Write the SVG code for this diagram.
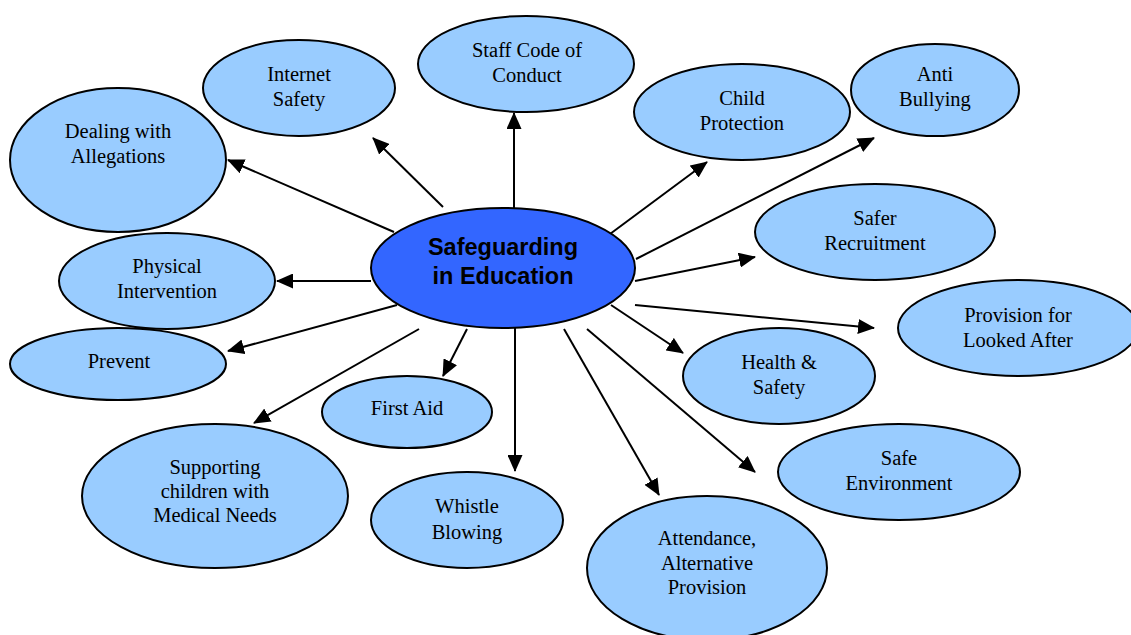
<svg xmlns="http://www.w3.org/2000/svg" width="1131" height="635" viewBox="0 0 1131 635">
<style>
.node ellipse{fill:#99CCFF;stroke:#000;stroke-width:2}
.node text{font-family:"Liberation Serif","Times New Roman",serif;font-size:20.5px;fill:#000;text-anchor:middle}
#center ellipse{fill:#3366FF;stroke:#000;stroke-width:2}
#center text{font-family:"Liberation Sans",Arial,sans-serif;font-weight:bold;font-size:23.5px;fill:#000;text-anchor:middle}
#connectors line{stroke:#000;stroke-width:2;marker-end:url(#arrow)}
</style>
<defs>
<marker id="arrow" markerUnits="userSpaceOnUse" markerWidth="17" markerHeight="15" viewBox="0 0 17 15" refX="16" refY="7.5" orient="auto">
<path d="M0,0 L17,7.5 L0,15 z" fill="#000"/>
</marker>
</defs>
<rect width="1131" height="635" fill="#fff"/>
<g id="connectors">
<line x1="514" y1="208" x2="514" y2="113"/>
<line x1="443" y1="207" x2="373" y2="138"/>
<line x1="394" y1="232" x2="228" y2="160"/>
<line x1="371" y1="281" x2="277" y2="281"/>
<line x1="397" y1="305" x2="228" y2="351"/>
<line x1="419" y1="329" x2="254" y2="423"/>
<line x1="467" y1="329" x2="443" y2="376"/>
<line x1="515" y1="328" x2="515" y2="471"/>
<line x1="564" y1="329" x2="659" y2="495"/>
<line x1="587" y1="329" x2="755" y2="472"/>
<line x1="611" y1="305" x2="683" y2="353"/>
<line x1="635" y1="305" x2="874" y2="328"/>
<line x1="635" y1="281" x2="755" y2="257"/>
<line x1="636" y1="259" x2="874" y2="138"/>
<line x1="610" y1="234" x2="707" y2="162"/>
</g>
<g id="center">
<ellipse cx="503" cy="268" rx="132" ry="60"/>
<text x="503" y="255">Safeguarding</text>
<text x="503" y="284">in Education</text>
</g>
<g id="internet-safety" class="node">
<ellipse cx="299" cy="88" rx="96" ry="48"/>
<text x="299" y="81">Internet</text>
<text x="299" y="106">Safety</text>
</g>
<g id="staff-code" class="node">
<ellipse cx="526" cy="64" rx="108" ry="48"/>
<text x="527" y="57">Staff Code of</text>
<text x="527" y="82">Conduct</text>
</g>
<g id="child-protection" class="node">
<ellipse cx="742" cy="112" rx="108" ry="48"/>
<text x="742" y="105">Child</text>
<text x="742" y="130">Protection</text>
</g>
<g id="anti-bullying" class="node">
<ellipse cx="935" cy="90" rx="84" ry="46"/>
<text x="935" y="81">Anti</text>
<text x="935" y="106">Bullying</text>
</g>
<g id="dealing-allegations" class="node">
<ellipse cx="118" cy="160" rx="108" ry="72"/>
<text x="118" y="138">Dealing with</text>
<text x="118" y="163">Allegations</text>
</g>
<g id="physical-intervention" class="node">
<ellipse cx="167" cy="281" rx="108" ry="48"/>
<text x="167" y="273">Physical</text>
<text x="167" y="298">Intervention</text>
</g>
<g id="prevent" class="node">
<ellipse cx="118" cy="364" rx="108" ry="36"/>
<text x="119" y="368">Prevent</text>
</g>
<g id="safer-recruitment" class="node">
<ellipse cx="875" cy="232" rx="120" ry="48"/>
<text x="875" y="225">Safer</text>
<text x="875" y="250">Recruitment</text>
</g>
<g id="provision-looked-after" class="node">
<ellipse cx="1018" cy="328" rx="120" ry="48"/>
<text x="1018" y="322">Provision for</text>
<text x="1018" y="347">Looked After</text>
</g>
<g id="health-safety" class="node">
<ellipse cx="779" cy="376" rx="96" ry="48"/>
<text x="779" y="369">Health &amp;</text>
<text x="779" y="394">Safety</text>
</g>
<g id="safe-environment" class="node">
<ellipse cx="899" cy="472" rx="121" ry="48"/>
<text x="899" y="465">Safe</text>
<text x="899" y="490">Environment</text>
</g>
<g id="attendance" class="node">
<ellipse cx="707" cy="568" rx="120" ry="72"/>
<text x="707" y="545">Attendance,</text>
<text x="707" y="570">Alternative</text>
<text x="707" y="594">Provision</text>
</g>
<g id="whistle-blowing" class="node">
<ellipse cx="467" cy="520" rx="96" ry="48"/>
<text x="467" y="513">Whistle</text>
<text x="467" y="539">Blowing</text>
</g>
<g id="first-aid" class="node">
<ellipse cx="407" cy="412" rx="85" ry="36"/>
<text x="407" y="415">First Aid</text>
</g>
<g id="supporting-medical" class="node">
<ellipse cx="215" cy="496" rx="133" ry="72"/>
<text x="215" y="474">Supporting</text>
<text x="215" y="498">children with</text>
<text x="215" y="522">Medical Needs</text>
</g>
</svg>
